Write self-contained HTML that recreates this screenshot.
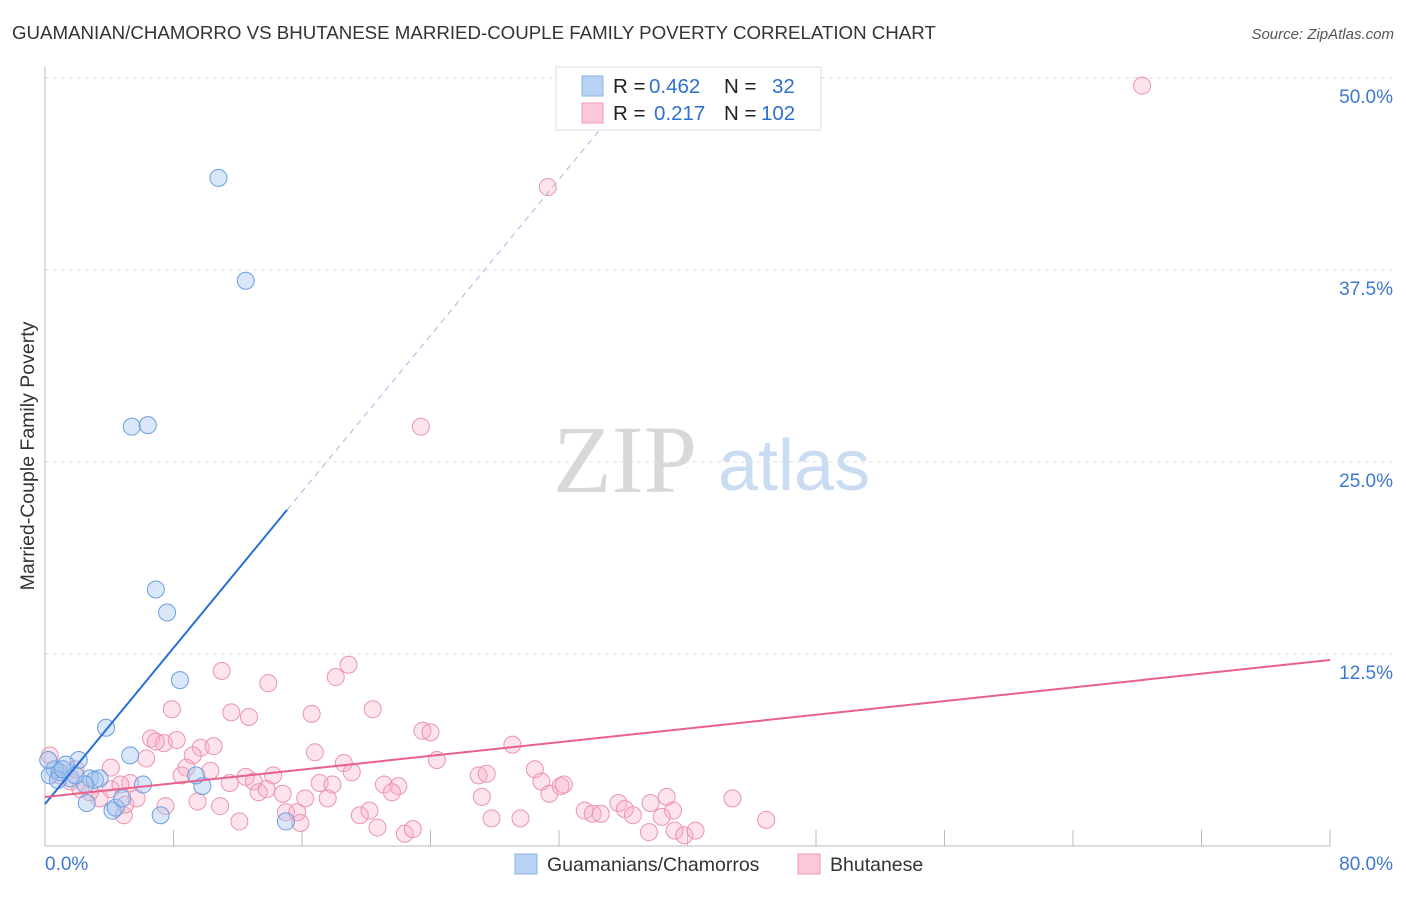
<!DOCTYPE html>
<html><head><meta charset="utf-8"><style>
body{margin:0;background:#fff;font-family:"Liberation Sans",sans-serif;}
svg text{font-family:"Liberation Sans",sans-serif;}
</style></head><body>
<svg id="chart" width="1406" height="892" xmlns="http://www.w3.org/2000/svg">
<text x="12" y="39" font-size="18.7" fill="#333">GUAMANIAN/CHAMORRO VS BHUTANESE MARRIED-COUPLE FAMILY POVERTY CORRELATION CHART</text>
<text x="1394" y="39" font-size="15" fill="#555" font-style="italic" text-anchor="end">Source: ZipAtlas.com</text>
<g>
<text x="553" y="492" font-size="96" fill="#d8d8d8" font-family="Liberation Serif, serif" style="font-family:'Liberation Serif',serif">ZIP</text>
<text x="718" y="490" font-size="72" fill="#c9dcf2">atlas</text>
</g>
<g id="grid"></g>
<g id="axes"></g>
<g id="marks"></g>
<text transform="translate(34,456) rotate(-90)" font-size="19.5" fill="#333" text-anchor="middle">Married-Couple Family Poverty</text>
<g>
<rect x="556" y="67" width="265" height="63" fill="#fff" stroke="#ddd"/>
<rect x="582" y="76" width="21" height="20" fill="#b8d2f4" stroke="#8ab2e8"/>
<rect x="582" y="103" width="21" height="20" fill="#fbc8d8" stroke="#ef9ab6"/>
<text x="613" y="93" font-size="20.5" fill="#222">R = <tspan x="649" fill="#2f6fd0">0.462</tspan></text>
<text x="724" y="93" font-size="20.5" fill="#222">N = <tspan x="772" fill="#2f6fd0">32</tspan></text>
<text x="613" y="120" font-size="20.5" fill="#222">R = <tspan x="654" fill="#2f6fd0">0.217</tspan></text>
<text x="724" y="120" font-size="20.5" fill="#222">N = <tspan x="761" fill="#2f6fd0">102</tspan></text>
</g>
<g>
<rect x="515" y="854" width="22" height="20" fill="#b8d2f4" stroke="#8ab2e8"/>
<text x="547" y="871" font-size="19.5" fill="#333">Guamanians/Chamorros</text>
<rect x="798" y="854" width="22" height="20" fill="#fbc8d8" stroke="#ef9ab6"/>
<text x="830" y="871" font-size="19.5" fill="#333">Bhutanese</text>
</g>
</svg>
<script>
const yTicks=[12.5,25,37.5,50];
const yTickLabels=["12.5%","25.0%","37.5%","50.0%"];
const xTickLabels=["0.0%","80.0%"];
const blueX=[10.8,12.5,5.4,6.4,6.9,7.6,8.4,3.8,5.3,6.1,9.8,9.4,2.1,1.3,0.6,0.3,1.6,2.8,3.4,3.1,2.5,2.6,4.2,4.4,4.8,7.2,15.0,0.2,0.9,1.9,0.8,1.1];
const blueY=[43.5,36.8,27.3,27.4,16.7,15.2,10.8,7.7,5.9,4.0,3.9,4.6,5.6,5.3,5.0,4.6,4.4,4.4,4.4,4.3,4.0,2.8,2.3,2.5,3.1,2.0,1.6,5.6,4.8,4.6,4.3,5.0];
const pinkX=[68.3,31.3,23.4,11.0,13.9,18.1,18.9,7.9,11.6,12.7,16.6,20.4,23.5,24.0,24.4,6.6,7.4,6.9,8.2,9.7,10.5,9.2,6.3,16.8,18.6,19.1,4.1,5.3,8.8,8.5,10.3,11.5,12.5,13.0,14.2,13.3,13.8,14.8,16.2,17.1,17.9,17.6,21.1,22.0,21.6,10.9,9.5,7.5,5.7,4.9,3.4,2.8,12.1,15.0,15.7,15.9,19.6,20.2,20.7,22.4,22.9,0.3,29.1,27.0,27.5,27.2,27.8,29.6,30.5,30.9,31.4,32.1,32.3,33.6,34.1,34.6,35.7,36.1,36.6,37.7,38.7,39.1,38.4,37.6,39.2,39.8,40.5,42.8,44.9,0.9,1.6,2.2,4.1,4.7,5.0,1.9];
const pinkY=[49.5,42.9,27.3,11.4,10.6,11.0,11.8,8.9,8.7,8.4,8.6,8.9,7.5,7.4,5.6,7.0,6.7,6.8,6.9,6.4,6.5,5.9,5.7,6.1,5.4,4.8,5.1,4.1,5.1,4.6,4.9,4.1,4.5,4.2,4.6,3.5,3.7,3.4,3.1,4.1,4.0,3.1,4.0,3.9,3.5,2.6,2.9,2.6,3.1,2.0,3.1,3.5,1.6,2.2,2.2,1.5,2.0,2.3,1.2,0.8,1.1,5.9,6.6,4.6,4.7,3.2,1.8,1.8,5.0,4.2,3.4,3.9,4.0,2.3,2.1,2.1,2.8,2.4,2.0,2.8,3.2,2.3,1.9,0.9,1.0,0.7,1.0,3.1,1.7,4.6,4.2,3.7,3.7,4.0,2.7,5.0];
const blueTrend=[2.73,1.271];
const pinkTrend=[3.19,0.1115];
const NS="http://www.w3.org/2000/svg";
const X0=45,X1=1330,Y0=846,YPER=15.36;
function xs(v){return X0+v*(X1-X0)/80;}
function ys(v){return Y0-v*YPER;}
function mk(tag,attrs,parent){const e=document.createElementNS(NS,tag);for(const k in attrs)e.setAttribute(k,attrs[k]);parent.appendChild(e);return e;}
const grid=document.getElementById('grid'),axes=document.getElementById('axes'),marks=document.getElementById('marks');
yTicks.forEach((t,i)=>{
 const l=mk('line',{x1:X0,x2:1392,y1:ys(t),y2:ys(t),stroke:'#ddd','stroke-dasharray':'4,4'},grid);
 
 
 const tx=mk('text',{x:1393,y:ys(t)+25,'font-size':19,fill:'#3d78d0','text-anchor':'end'},axes);
 tx.textContent=yTickLabels[i];
 
 
});
const ya=mk('line',{x1:X0,x2:X0,y1:67,y2:Y0,stroke:'#bbb'},axes);


const xa=mk('line',{x1:X0,x2:X1,y1:Y0,y2:Y0,stroke:'#bbb'},axes);


for(let i=1;i<=10;i++){const t=mk('line',{x1:xs(i*8),x2:xs(i*8),y1:Y0-16,y2:Y0,stroke:'#bbb'},axes);
 
 }
const xl0=mk('text',{x:X0,y:870,'font-size':19,fill:'#3d78d0'},axes);xl0.textContent=xTickLabels[0];


const xl1=mk('text',{x:1393,y:870,'font-size':19,fill:'#3d78d0','text-anchor':'end'},axes);xl1.textContent=xTickLabels[1];


pinkX.forEach((x,i)=>{const c=mk('circle',{cx:xs(x),cy:ys(pinkY[i]),r:8.5,fill:'rgba(248,175,198,0.35)',stroke:'#ec93b0','stroke-width':1},marks);
 
 });
blueX.forEach((x,i)=>{const c=mk('circle',{cx:xs(x),cy:ys(blueY[i]),r:8.5,fill:'rgba(160,196,240,0.4)',stroke:'#6a9fe0','stroke-width':1},marks);
 
 });
const bl=mk('line',{x1:xs(0),y1:ys(blueTrend[0]),x2:xs(15.07),y2:ys(blueTrend[0]+blueTrend[1]*15.07),stroke:'#2a6fd6','stroke-width':2},marks);


const bd=mk('line',{x1:xs(15.07),y1:ys(blueTrend[0]+blueTrend[1]*15.07),x2:xs(36),y2:ys(blueTrend[0]+blueTrend[1]*36),stroke:'#9bbbe6','stroke-width':1,'stroke-dasharray':'6,5'},marks);


const pl=mk('line',{x1:xs(0),y1:ys(pinkTrend[0]),x2:xs(80),y2:ys(pinkTrend[0]+pinkTrend[1]*80),stroke:'#e8608c','stroke-width':2},marks);


</script>
</body></html>
